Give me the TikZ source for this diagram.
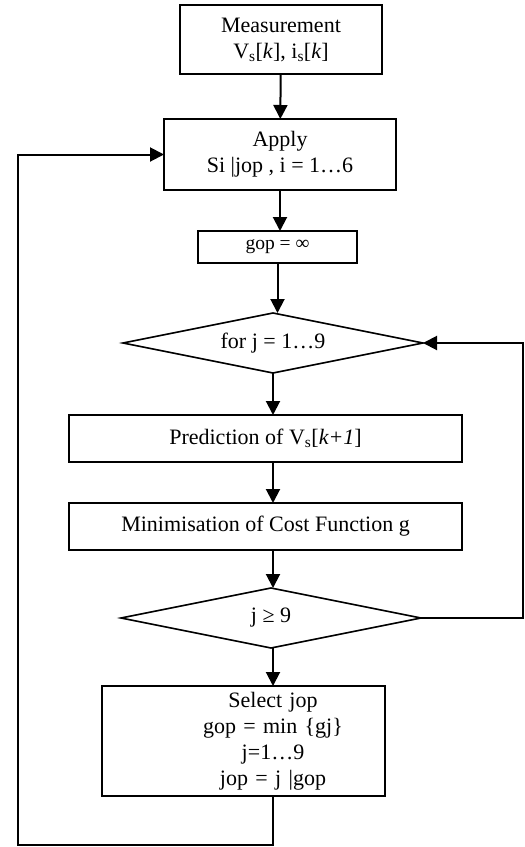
\documentclass[tikz,border=0pt]{standalone}
\usepackage{fontspec}
\setmainfont{Liberation Serif}
\usetikzlibrary{shapes.geometric,arrows.meta,positioning}

\begin{document}
\begin{tikzpicture}[
  x=1pt, y=-1pt,
  every node/.style = {font=\fontsize{22}{26}\selectfont},
  box/.style  = {rectangle, draw, line width=2pt, align=center, inner sep=2pt, outer sep=0pt},
  dec/.style  = {diamond, draw, line width=1.6pt, aspect=5, inner sep=1pt, outer sep=0pt,
                 minimum width=300pt, minimum height=60pt},
  arr/.style  = {-{Triangle[length=14pt,width=14pt]}, line width=2pt},
]
\useasboundingbox (0,0) rectangle (525,847);

% ── Main column ──────────────────────────────────────
\node[box, minimum width=202pt, minimum height=69pt] (meas) at (281,39.5)
  {Measurement\\V\textsubscript{s}[\textit{k}], i\textsubscript{s}[\textit{k}]};
\node[box, minimum width=232pt, minimum height=71pt, below=45pt of meas, xshift=-1pt] (apply)
  {Apply\\Si |jop , i = 1…6};
\node[box, minimum width=159pt, minimum height=32pt, below=41pt of apply, xshift=-2.5pt,
      font=\fontsize{19.5}{22}\selectfont] (gop) {gop = ∞};
\node[dec, below=50pt of gop, xshift=-4.5pt] (forj) {for j = 1…9};
\node[box, minimum width=393pt, minimum height=47pt, below=42pt of forj, xshift=-7.5pt] (pred)
  {Prediction of V\textsubscript{s}[\textit{k+1}]};
\node[box, minimum width=393pt, minimum height=47pt, below=41pt of pred] (mini)
  {Minimisation of Cost Function g};
\node[dec, below=38pt of mini, xshift=5.5pt] (jend) {j ≥ 9};
\node[box, minimum width=283pt, minimum height=110pt, below=38pt of jend, xshift=-27.5pt,
      text width=279pt] (sel)
  {\hspace*{59pt}Select jop\\\hspace*{59pt}gop = min \{gj\}\\\hspace*{59pt}j=1…9\\\hspace*{59pt}jop = j |gop};

% ── Column arrows ────────────────────────────────────
\draw[arr] (meas)  -- (apply);
\draw[arr] (apply.south) -- (apply.south |- gop.north);
\draw[arr] (gop.south) -- (gop.south |- forj.north);
\draw[arr] (forj.south) -- (forj.south |- pred.north);
\draw[arr] (pred.south -| forj) -- (mini.north -| forj);
\draw[arr] (mini.south -| forj) -- (jend.north -| forj);
\draw[arr] (jend.south -| forj) -- (sel.north -| forj);

% ── Loop back to the for node ────────────────────────
\draw[arr]
  (jend.east) -- ++(102,0) coordinate (rA)
  -- (rA |- forj.east) -- (forj.east);

% ── Loop back to Apply ───────────────────────────────
\coordinate (lB) at (18,845);
\draw[arr]
  (sel.south -| forj) -- (forj |- lB) -- (lB)
  -- (lB |- apply.west) -- (apply.west);

\end{tikzpicture}
\end{document}
